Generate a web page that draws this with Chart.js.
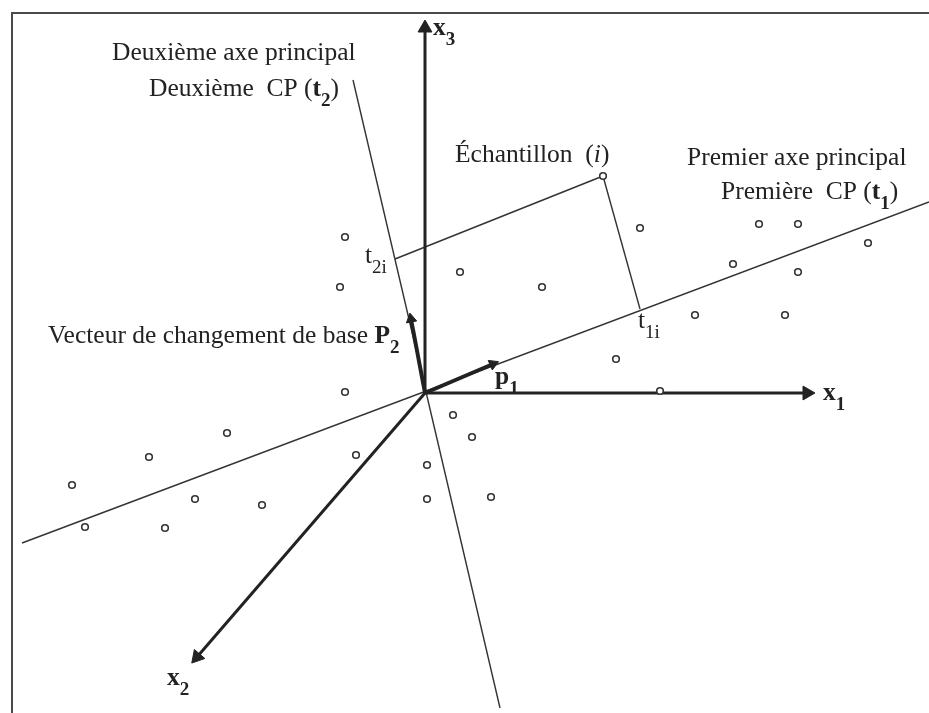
<!DOCTYPE html>
<html>
<head>
<meta charset="utf-8">
<script src="https://cdn.jsdelivr.net/npm/chart.js@4"></script>
<style>
  html, body { margin: 0; padding: 0; background: #fff; }
  #wrap { position: relative; width: 929px; height: 713px; overflow: hidden; }
  #frame { position: absolute; left: 11px; top: 12px; width: 940px; height: 720px;
           border-top: 2px solid #4a4a4a; border-left: 2px solid #4a4a4a; }
  #pca { position: absolute; left: 0; top: 0; }
</style>
</head>
<body>
<div id="wrap">
  <div id="frame"></div>
  <canvas id="pca" width="929" height="713"></canvas>
</div>
<script>
// scatter of observations (origin = centre of the cloud)
const sampleX = [-80, -85, 35, 117, 215, 334, 373, 443, 308, 373, 270, 360, 191, 235,
                 -80, -198, -276, -353, -340, -260, -230, -163, -69, 28, 47, 2, 2, 66];
const sampleY = [156, 106, 121, 106, 165, 169, 169, 150, 129, 121, 78, 78, 34, 2,
                 1, -40, -64, -92, -134, -135, -106, -112, -62, -22, -44, -72, -106, -104];

// sample i and its projections on the two components
const sampleI = [178, 217];
const scoreT1 = [215, 84];
const scoreT2 = [-30, 134];

// principal axes (end points of the drawn lines)
const pc1Ends = [[-403, -150], [504, 191]];
const pc2Ends = [[-72, 313], [75, -315]];

// original variable axes and loading vectors (from the origin)
const axisX1 = [382, 0];
const axisX2 = [-228, -264];
const axisX3 = [0, 365];
const vecP1 = [68, 29];
const vecP2 = [-14, 74];

// text annotations: segments [text, bold, sub, italic]
const notes = [
  { x: -313, y: 333, parts: [["Deuxième axe principal"]] },
  { x: -276, y: 297, parts: [["Deuxième  CP ("], ["t", 1], ["2", 1, 1], [")"]] },
  { x: 30, y: 231, parts: [["Échantillon  ("], ["i", 0, 0, 1], [")"]] },
  { x: 262, y: 228, parts: [["Premier axe principal"]] },
  { x: 296, y: 194, parts: [["Première  CP ("], ["t", 1], ["1", 1, 1], [")"]] },
  { x: -60, y: 130, parts: [["t"], ["2i", 0, 1]] },
  { x: 213, y: 65, parts: [["t"], ["1i", 0, 1]] },
  { x: -377, y: 50, parts: [["Vecteur de changement de base "], ["P", 1], ["2", 1, 1]] },
  { x: 8, y: 358, parts: [["x", 1], ["3", 1, 1]] },
  { x: 398, y: -7, parts: [["x", 1], ["1", 1, 1]] },
  { x: -258, y: -292, parts: [["x", 1], ["2", 1, 1]] },
  { x: 70, y: 9, parts: [["p", 1], ["1", 1, 1]] }
];

const pt = (a) => ({ x: a[0], y: a[1] });
const ink = "#222";

function arrow(end, width, head) {
  const rot = Math.atan2(end[0], end[1]) * 180 / Math.PI;
  return {
    type: "line",
    data: [{ x: 0, y: 0 }, pt(end)],
    borderColor: ink,
    borderWidth: width,
    pointRadius: [0, head],
    pointStyle: "triangle",
    pointRotation: [0, rot],
    pointBackgroundColor: ink,
    pointBorderColor: ink,
    pointBorderWidth: 1,
    order: 1
  };
}

function thinLine(a, b) {
  return {
    type: "line",
    data: [pt(a), pt(b)],
    borderColor: "#333",
    borderWidth: 1.4,
    pointRadius: 0,
    order: 2
  };
}

const textPlugin = {
  id: "notes",
  afterDatasetsDraw(chart) {
    const ctx = chart.ctx;
    const sx = chart.scales.x, sy = chart.scales.y;
    ctx.save();
    ctx.fillStyle = ink;
    ctx.textBaseline = "alphabetic";
    notes.forEach((n) => {
      let px = sx.getPixelForValue(n.x);
      const py = sy.getPixelForValue(n.y);
      n.parts.forEach(([t, bold, sub, ital]) => {
        const size = sub ? 19 : 25.5;
        ctx.font = (ital ? "italic " : "") + (bold ? "bold " : "") + size + "px 'Liberation Serif', serif";
        ctx.fillText(t, px, py + (sub ? 10 : 0));
        px += ctx.measureText(t).width;
      });
    });
    ctx.restore();
  }
};

new Chart(document.getElementById("pca"), {
  type: "scatter",
  data: {
    datasets: [
      {
        data: sampleX.map((x, i) => ({ x, y: sampleY[i] })).concat([pt(sampleI)]),
        pointRadius: 3.3,
        pointBorderWidth: 1.6,
        pointBorderColor: "#333",
        pointBackgroundColor: "#fff",
        order: 0
      },
      thinLine(pc1Ends[0], pc1Ends[1]),
      thinLine(pc2Ends[0], pc2Ends[1]),
      thinLine(sampleI, scoreT1),
      thinLine(sampleI, scoreT2),
      arrow(axisX1, 3, 8),
      arrow(axisX2, 3, 8),
      arrow(axisX3, 3, 8),
      arrow(vecP1, 4, 6),
      arrow(vecP2, 4, 6)
    ]
  },
  options: {
    responsive: false,
    animation: false,
    devicePixelRatio: 1,
    events: [],
    layout: { padding: 0, autoPadding: false },
    plugins: { legend: { display: false }, tooltip: { enabled: false } },
    scales: {
      x: { type: "linear", display: false, min: -425, max: 504 },
      y: { type: "linear", display: false, min: -320, max: 393 }
    }
  },
  plugins: [textPlugin]
});
</script>
</body>
</html>
